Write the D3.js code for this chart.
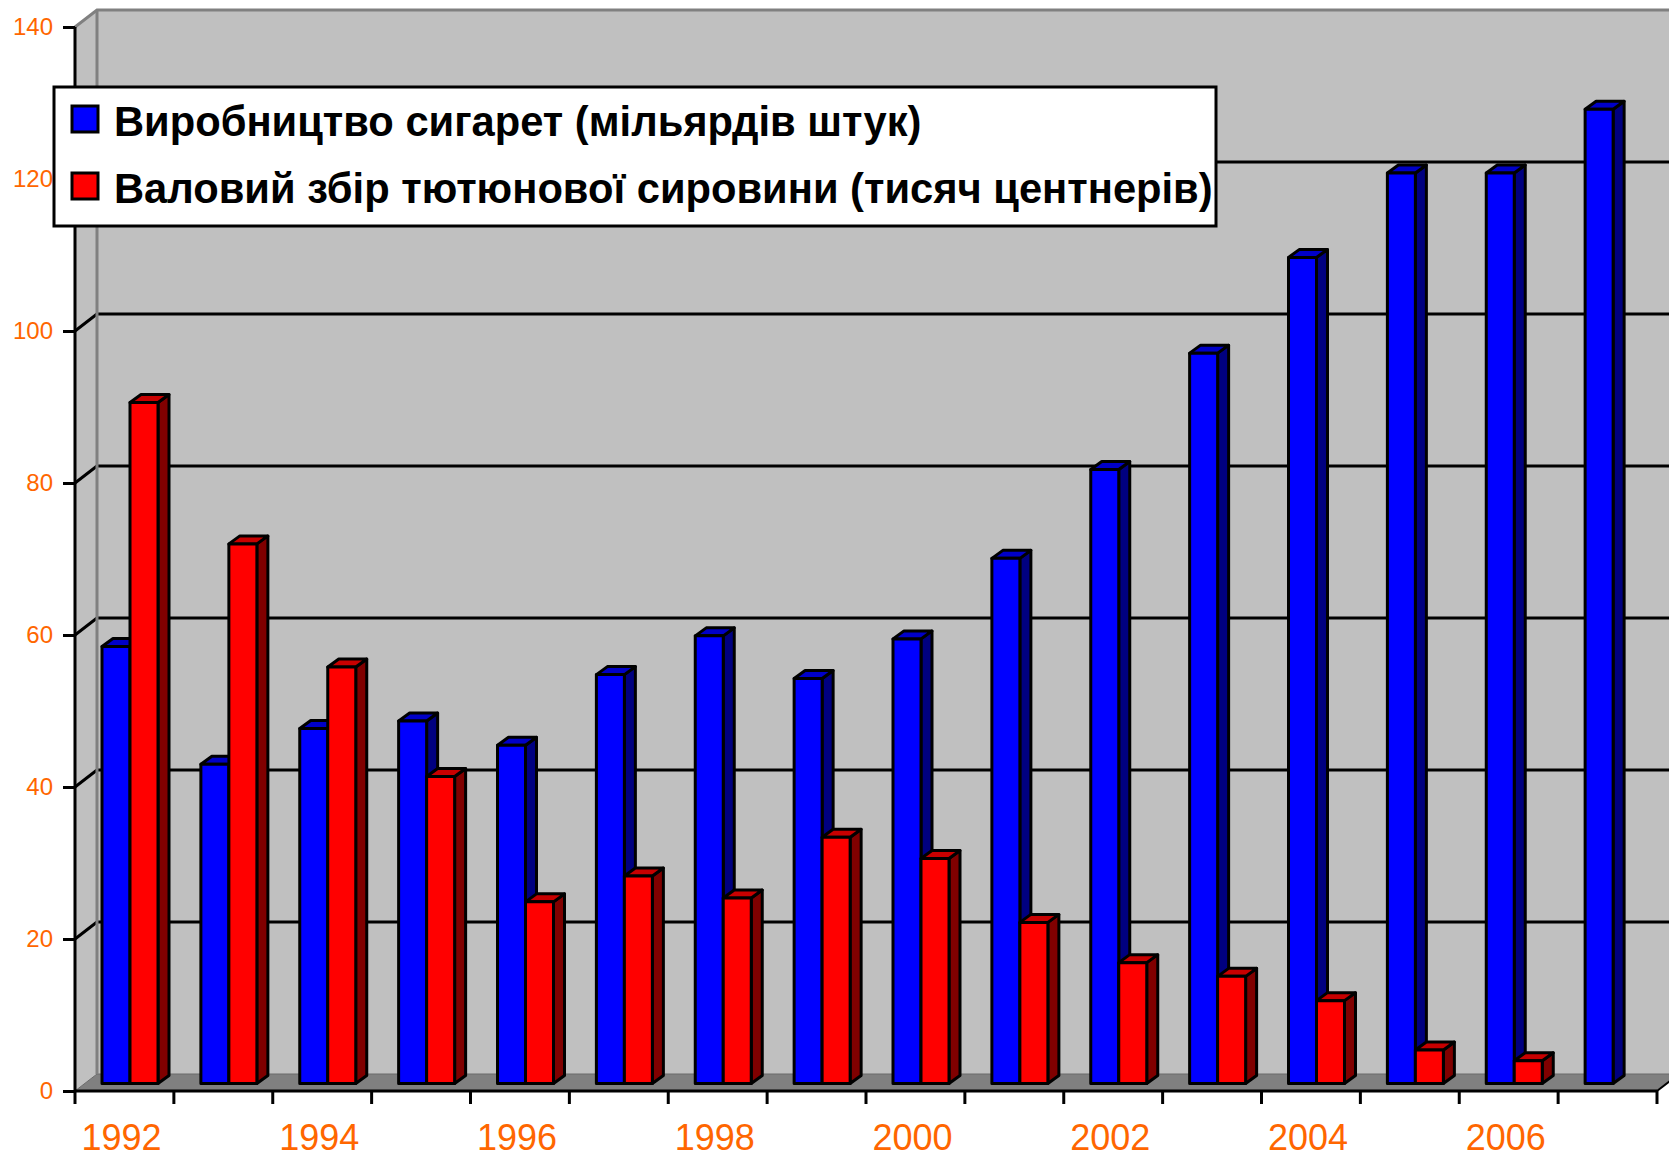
<!DOCTYPE html>
<html>
<head>
<meta charset="utf-8">
<script src="https://cdn.jsdelivr.net/npm/d3@7"></script>
<style>
  html, body { margin: 0; padding: 0; background: #ffffff; }
  svg { display: block; }
</style>
</head>
<body>
<svg id="chart" width="1669" height="1158"></svg>
<script>
// ---- data ----
const years = ["1992","1993","1994","1995","1996","1997","1998","1999","2000","2001","2002","2003","2004","2005","2006","2007"];
const cigarettes = [57.5, 42.0, 46.7, 47.7, 44.5, 53.8, 58.9, 53.3, 58.5, 69.1, 80.8, 96.1, 108.7, 119.8, 119.8, 128.2];
const tobacco = [89.6, 71.0, 54.8, 40.4, 23.9, 27.3, 24.4, 32.4, 29.6, 21.2, 15.9, 14.1, 10.9, 4.4, 3.0, null];
const seriesNames = ["Виробництво сигарет (мільярдів штук)", "Валовий збір тютюнової сировини (тисяч центнерів)"];
const yTicks = [0, 20, 40, 60, 80, 100, 120, 140];
const xLabels = ["1992","1994","1996","1998","2000","2002","2004","2006"];

// ---- layout ----
const svg = d3.select("#chart");
const AX = 75, AXR = 1657, Y0 = 1091, Y140 = 27;
const DX = 22, DY = 17;          // wall depth
const BDX = 11, BDY = 8;         // bar depth
const BPY = 7.5;                 // bar plane offset
const y = d3.scaleLinear().domain([0, 140]).range([Y0, Y140]);
const x = d3.scaleBand().domain(years).range([AX, AXR]).paddingInner(0).paddingOuter(0);
const xs = d3.scaleBand().domain(["cig", "tob"]).range([27, 83]);

const colors = {
  cig: { front: "#0000FF", side: "#000080", top: "#0000C8" },
  tob: { front: "#FF0000", side: "#800000", top: "#C80000" }
};
const wallFill = "#C0C0C0", edge = "#808080";

// back wall
svg.append("rect").attr("x", AX + DX).attr("y", y(140) - DY)
  .attr("width", AXR + DX - (AX + DX)).attr("height", y(0) - y(140))
  .attr("fill", wallFill);
// side wall
svg.append("polygon")
  .attr("points", [[AX, y(0)], [AX + DX, y(0) - DY], [AX + DX, y(140) - DY], [AX, y(140)]].join(" "))
  .attr("fill", wallFill);
// floor
svg.append("polygon")
  .attr("points", [[AX, y(0)], [AX + DX, y(0) - DY], [AXR + DX, y(0) - DY], [AXR, y(0)]].join(" "))
  .attr("fill", "#808080").attr("stroke", "#6a6a6a").attr("stroke-width", 1);

// gridlines on back wall and side wall
const grid = yTicks.filter(t => t > 0 && t < 140);
svg.append("g").selectAll("line.bg").data(grid).join("line")
  .attr("x1", AX + DX).attr("x2", AXR + DX)
  .attr("y1", d => y(d) - DY).attr("y2", d => y(d) - DY)
  .attr("stroke", "#000").attr("stroke-width", 3);
svg.append("g").selectAll("line.sg").data(grid).join("line")
  .attr("x1", AX).attr("x2", AX + DX)
  .attr("y1", d => y(d)).attr("y2", d => y(d) - DY)
  .attr("stroke", "#000").attr("stroke-width", 3);
// wall edges
svg.append("path")
  .attr("d", `M${AX},${y(140)} L${AX + DX},${y(140) - DY} L${AXR + DX + 10},${y(140) - DY}`)
  .attr("fill", "none").attr("stroke", edge).attr("stroke-width", 3);
svg.append("line").attr("x1", AX + DX).attr("x2", AX + DX)
  .attr("y1", y(140) - DY).attr("y2", y(0) - DY)
  .attr("stroke", edge).attr("stroke-width", 3);

// ---- bars ----
const yb = v => y(v) - BPY;
const bars = [];
years.forEach((yr, i) => {
  [["cig", cigarettes[i]], ["tob", tobacco[i]]].forEach(([k, v]) => {
    if (v == null) return;
    bars.push({ yr, k, v });
  });
});
const bw = xs.bandwidth();
const gb = svg.append("g");
bars.forEach(b => {
  const x0 = x(b.yr) + xs(b.k), x1 = x0 + bw;
  const yt = yb(b.v), ybot = yb(0);
  const c = colors[b.k];
  const g = gb.append("g").attr("stroke", "#000").attr("stroke-width", 3).attr("stroke-linejoin", "round");
  g.append("polygon")
    .attr("points", [[x1, ybot], [x1 + BDX, ybot - BDY], [x1 + BDX, yt - BDY], [x1, yt]].join(" "))
    .attr("fill", c.side);
  g.append("polygon")
    .attr("points", [[x0, yt], [x0 + BDX, yt - BDY], [x1 + BDX, yt - BDY], [x1, yt]].join(" "))
    .attr("fill", c.top);
  g.append("rect").attr("x", x0).attr("y", yt).attr("width", bw).attr("height", ybot - yt)
    .attr("fill", c.front);
});

// ---- axes ----
// floor right edge
svg.append("line").attr("x1", AXR).attr("y1", y(0)).attr("x2", AXR + DX).attr("y2", y(0) - DY)
  .attr("stroke", "#000").attr("stroke-width", 2);
// y axis
const yAxis = d3.axisLeft(y).tickValues(yTicks).tickSize(12).tickPadding(10).tickFormat(d3.format("d"));
const gy = svg.append("g").attr("transform", `translate(${AX},0)`).call(yAxis);
gy.select(".domain").attr("stroke", "#000").attr("stroke-width", 3).attr("d", `M0,${y(140)}V${y(0)}`);
gy.selectAll(".tick line").attr("stroke", "#000").attr("stroke-width", 3);
gy.selectAll(".tick text").attr("fill", "#FF6600")
  .style("font-family", "'Liberation Sans', Arial, sans-serif").style("font-size", "24px");

// x axis
const xAxis = d3.axisBottom(x).tickSize(0).tickFormat(d => xLabels.includes(d) ? d : "");
const gx = svg.append("g").attr("transform", `translate(0,${Y0})`).call(xAxis);
gx.select(".domain").attr("stroke", "#000").attr("stroke-width", 3).attr("d", `M${AX},0H${AXR}`);
gx.selectAll(".tick text").attr("fill", "#FF6600").attr("dy", 0).attr("y", 59).attr("x", -3)
  .style("font-family", "'Liberation Sans', Arial, sans-serif").style("font-size", "36px");
// category boundary ticks
const bounds = years.map(d => x(d)).concat([AXR]);
svg.append("g").selectAll("line").data(bounds).join("line")
  .attr("x1", d => d).attr("x2", d => d).attr("y1", Y0).attr("y2", Y0 + 13)
  .attr("stroke", "#000").attr("stroke-width", 3);

// ---- legend ----
const lg = svg.append("g");
lg.append("rect").attr("x", 54).attr("y", 87).attr("width", 1162).attr("height", 139)
  .attr("fill", "#fff").attr("stroke", "#000").attr("stroke-width", 3);
const legendItems = [{ k: "cig", name: seriesNames[0], yy: 106 }, { k: "tob", name: seriesNames[1], yy: 173 }];
legendItems.forEach(it => {
  lg.append("rect").attr("x", 72).attr("y", it.yy).attr("width", 26).attr("height", 26)
    .attr("fill", colors[it.k].front).attr("stroke", "#000").attr("stroke-width", 3);
  lg.append("text").attr("x", 114).attr("y", it.yy + 30).text(it.name)
    .attr("fill", "#000")
    .style("font-family", "'Liberation Sans', Arial, sans-serif").style("font-weight", "bold")
    .style("font-size", "41.7px");
});
</script>
</body>
</html>
